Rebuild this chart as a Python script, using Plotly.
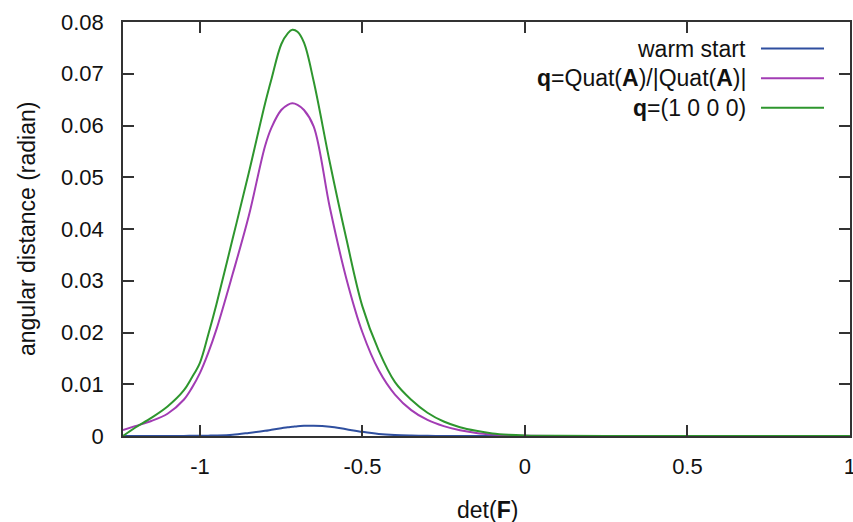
import plotly.graph_objects as go

# --- data ---
det_x = [-1.237, -1.20, -1.15, -1.10, -1.05, -1.025, -1.00, -0.975, -0.95, -0.90, -0.85, -0.80, -0.78, -0.75, -0.73,
         -0.716, -0.70, -0.68, -0.65, -0.60, -0.55, -0.50, -0.45, -0.40, -0.35, -0.30, -0.25, -0.20, -0.15,
         -0.10, -0.05, 0.00, 0.10, 0.25, 0.50, 0.75, 1.00]

warm_y = [0.0, 0.0, 0.0, 0.00001, 0.00002, 0.00003, 0.00004, 0.00007, 0.0001, 0.00025, 0.0006, 0.0010, 0.0012, 0.0015,
          0.0017, 0.00178, 0.0019, 0.00197, 0.0020, 0.0018, 0.0013, 0.0008, 0.0004, 0.00018, 0.00008, 0.00003,
          0.00001, 0.0, 0.0, 0.0, 0.0, 0.0, 0.0, 0.0, 0.0, 0.0, 0.0]

quat_y = [0.00116, 0.0019, 0.0029, 0.0043, 0.0070, 0.0093, 0.0122, 0.0160, 0.0205, 0.0312, 0.0425, 0.0560, 0.0596,
          0.0630, 0.0640, 0.0643, 0.0640, 0.0630, 0.0598, 0.0440, 0.0305, 0.0200, 0.0127, 0.0080, 0.0050, 0.0031,
          0.0019, 0.0011, 0.0006, 0.0003, 0.00012, 0.00005, 0.0, 0.0, 0.0, 0.0, 0.0]

one_y = [0.0, 0.0016, 0.0035, 0.0057, 0.0088, 0.0113, 0.0142, 0.0195, 0.0253, 0.0380, 0.0508, 0.0642, 0.0690, 0.0757,
         0.0778, 0.0785, 0.0781, 0.0760, 0.0685, 0.0527, 0.0382, 0.0250, 0.0165, 0.0104, 0.0070, 0.0045, 0.0028,
         0.0017, 0.0010, 0.0005, 0.00025, 0.00012, 0.00003, 0.0, 0.0, 0.0, 0.0]

x_ticks = [-1, -0.5, 0, 0.5, 1]
x_tick_labels = ["-1", "-0.5", "0", "0.5", "1"]
y_ticks = [0, 0.01, 0.02, 0.03, 0.04, 0.05, 0.06, 0.07, 0.08]
y_tick_labels = ["0", "0.01", "0.02", "0.03", "0.04", "0.05", "0.06", "0.07", "0.08"]

series = [
    ("warm start", warm_y, "#2f4f9f"),
    ("<b>q</b>=Quat(<b>A</b>)/|Quat(<b>A</b>)|", quat_y, "#a23cb4"),
    ("<b>q</b>=(1 0 0 0)", one_y, "#2e962e"),
]

FONT = "Liberation Sans, Arial, sans-serif"
W, H = 853, 522
L, R, T, B = 123, 3, 22, 86
pw, ph = W - L - R, H - T - B

fig = go.Figure()
for name, ys, col in series:
    fig.add_trace(go.Scatter(x=det_x, y=ys, mode="lines", name=name,
                             line=dict(color=col, width=2, shape="spline", smoothing=1.0),
                             showlegend=False))

# gnuplot-style key: text right-aligned, sample line to its right
leg_y = [48.5, 78.3, 107.7]
for (name, ys, col), yy in zip(series, leg_y):
    yp = 1 - (yy - T) / ph
    fig.add_annotation(x=(748 - L) / pw, y=yp, xref="paper", yref="paper", text=name, showarrow=False,
                       xanchor="right", yanchor="middle", font=dict(family=FONT, size=23, color="#111"))
    fig.add_shape(type="line", xref="paper", yref="paper", x0=(761 - L) / pw, x1=(824 - L) / pw,
                  y0=yp, y1=yp, line=dict(color=col, width=2))

# axis titles
fig.add_annotation(x=(487 - L) / pw, y=-(510 - (T + ph)) / ph, xref="paper", yref="paper",
                   text="det(<b>F</b>)", showarrow=False, xanchor="center", yanchor="middle",
                   font=dict(family=FONT, size=23, color="#111"))
fig.add_annotation(x=(27 - L) / pw, y=0.5, xref="paper", yref="paper", textangle=-90,
                   text="angular distance (radian)", showarrow=False, xanchor="center", yanchor="middle",
                   font=dict(family=FONT, size=23, color="#111"))

fig.update_layout(
    width=W, height=H,
    margin=dict(l=L, r=R, t=T, b=B, autoexpand=False),
    paper_bgcolor="white", plot_bgcolor="white",
    font=dict(family=FONT, size=22, color="#111"),
)
axis_common = dict(ticks="inside", ticklen=11, tickwidth=1.5, tickcolor="#333",
                   showline=True, linecolor="#333", linewidth=1.5, mirror="ticks",
                   showgrid=False, zeroline=False, automargin=False)
fig.update_xaxes(range=[-1.237, 1.0003], tickvals=x_ticks, ticktext=x_tick_labels,
                 ticklabelstandoff=10, ticklabeloverflow="allow", **axis_common)
fig.update_yaxes(range=[0, 0.08], tickvals=y_ticks, ticktext=y_tick_labels,
                 ticklabelstandoff=13, **axis_common)

fig.write_html("out.html", config={"displayModeBar": False},
               post_script="document.body.style.margin='0';document.body.style.overflow='hidden';")
